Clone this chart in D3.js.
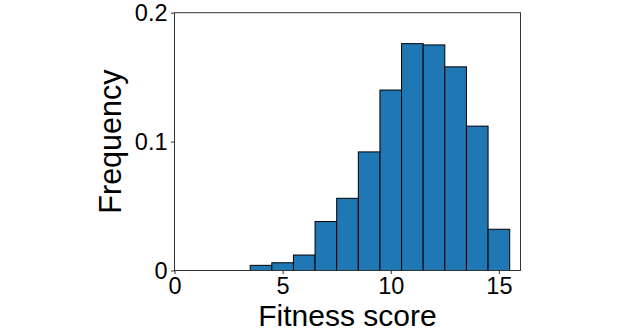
<!DOCTYPE html>
<html>
<head>
<meta charset="utf-8">
<script src="https://cdn.jsdelivr.net/npm/d3@7"></script>
<style>
  html, body { margin: 0; padding: 0; background: #fff; }
  svg { display: block; font-family: "Liberation Sans", Arial, sans-serif; }
</style>
</head>
<body>
<svg id="chart" width="623" height="332"></svg>
<script>
// Histogram bins (left edge, right edge) and relative frequencies
const binStarts = [3.5, 4.5, 5.5, 6.5, 7.5, 8.5, 9.5, 10.5, 11.5, 12.5, 13.5, 14.5];
const binEnds   = [4.5, 5.5, 6.5, 7.5, 8.5, 9.5, 10.5, 11.5, 12.5, 13.5, 14.5, 15.5];
const frequencies = [0.004, 0.006, 0.012, 0.038, 0.056, 0.092, 0.140, 0.176, 0.175, 0.158, 0.112, 0.032];
const xTicks = [0, 5, 10, 15];
const yTicks = [0, 0.1, 0.2];
const yTickLabels = ["0", "0.1", "0.2"];
const xLabel = "Fitness score";
const yLabel = "Frequency";

(function () {
const svg = d3.select("#chart");
const mLeft = 174.5, mRight = 520.5, mTop = 12.7, mBottom = 270.5;

const x = d3.scaleLinear().domain([0, 16]).range([mLeft, mRight]);
const y = d3.scaleLinear().domain([0, 0.2]).range([mBottom, mTop]);

const data = binStarts.map((s, i) => ({ x0: s, x1: binEnds[i], v: frequencies[i] }));

svg.append("g")
  .selectAll("rect")
  .data(data)
  .join("rect")
  .attr("x", d => x(d.x0))
  .attr("width", d => x(d.x1) - x(d.x0))
  .attr("y", d => y(d.v))
  .attr("height", d => y(0) - y(d.v))
  .attr("fill", "#1f77b4")
  .attr("stroke", "#000")
  .attr("stroke-width", 1);

// frame
svg.append("rect")
  .attr("x", mLeft).attr("y", mTop)
  .attr("width", mRight - mLeft).attr("height", mBottom - mTop)
  .attr("fill", "none").attr("stroke", "#333").attr("stroke-width", 1);

const xAxis = svg.append("g")
  .attr("transform", `translate(0,${mBottom})`)
  .call(d3.axisBottom(x).tickValues(xTicks).tickFormat(d3.format("d")).tickSize(3.5).tickPadding(3));
const yAxis = svg.append("g")
  .attr("transform", `translate(${mLeft},0)`)
  .call(d3.axisLeft(y).tickValues(yTicks).tickFormat((d, i) => yTickLabels[i]).tickSize(3.5).tickPadding(3.5));

[xAxis, yAxis].forEach(g => {
  g.select(".domain").remove();
  g.selectAll(".tick line").attr("stroke", "#333");
  g.selectAll(".tick text")
    .attr("fill", "#000")
    .style("font-size", "23.5px")
    .style("font-family", "'Liberation Sans', Arial, sans-serif");
});

svg.append("text")
  .attr("x", (mLeft + mRight) / 2)
  .attr("y", 326)
  .attr("text-anchor", "middle")
  .style("font-size", "30px")
  .attr("fill", "#000")
  .text(xLabel);

svg.append("text")
  .attr("transform", `translate(121,${(mTop + mBottom) / 2}) rotate(-90)`)
  .attr("text-anchor", "middle")
  .style("font-size", "30.5px")
  .attr("fill", "#000")
  .text(yLabel);
})();
</script>
</body>
</html>
